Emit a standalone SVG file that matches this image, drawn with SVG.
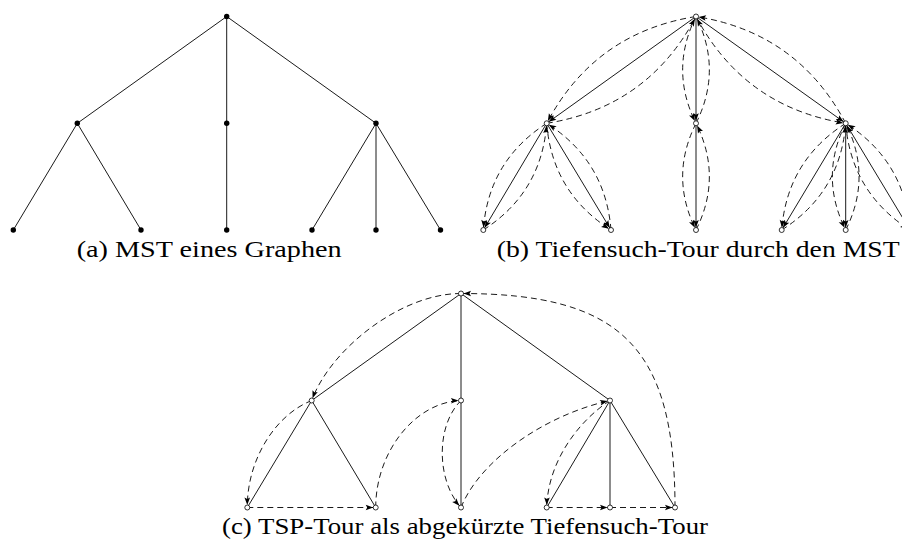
<svg xmlns="http://www.w3.org/2000/svg" width="902" height="550" viewBox="0 0 902 550">
<style>
.e{stroke:#000;stroke-width:0.9;fill:none}
.d{stroke:#000;stroke-width:0.9;fill:none;stroke-dasharray:6 4}
.a{marker-end:url(#ah)}
.f{fill:#000}
.o{fill:#fff;stroke:#000;stroke-width:0.8}
.cap{font-family:"Liberation Serif","Times New Roman",serif;font-size:23px;fill:#000}
</style>
<defs>
<marker id="ah" markerUnits="userSpaceOnUse" markerWidth="12" markerHeight="12" refX="2.5" refY="0" orient="auto" overflow="visible">
<path d="M0,0 L-7.5,-2.8 L-6,0 L-7.5,2.8 Z" fill="#000"/>
</marker>
</defs>
<rect width="902" height="550" fill="#fff"/>
<g id="connectors">
<g id="edges-a">
<line class="e" x1="226.7" y1="16.5" x2="77.3" y2="123.3"/>
<line class="e" x1="226.7" y1="16.5" x2="226.7" y2="123.3"/>
<line class="e" x1="226.7" y1="16.5" x2="376" y2="123.3"/>
<line class="e" x1="77.3" y1="123.3" x2="13.3" y2="230"/>
<line class="e" x1="77.3" y1="123.3" x2="141" y2="230"/>
<line class="e" x1="226.7" y1="123.3" x2="226.7" y2="230"/>
<line class="e" x1="376" y1="123.3" x2="312" y2="230"/>
<line class="e" x1="376" y1="123.3" x2="376" y2="230"/>
<line class="e" x1="376" y1="123.3" x2="440.5" y2="230"/>
</g>
<g id="edges-b">
<line class="e a" x1="696" y1="16.5" x2="546.7" y2="123.3"/>
<line class="e a" x1="696" y1="16.5" x2="696" y2="123.3"/>
<line class="e a" x1="696" y1="16.5" x2="845.7" y2="123.3"/>
<line class="e a" x1="546.7" y1="123.3" x2="483.3" y2="230"/>
<line class="e a" x1="546.7" y1="123.3" x2="611" y2="230"/>
<line class="e a" x1="696" y1="123.3" x2="696" y2="230"/>
<line class="e a" x1="845.7" y1="123.3" x2="781.7" y2="230"/>
<line class="e a" x1="845.7" y1="123.3" x2="845.7" y2="230"/>
<line class="e a" x1="845.7" y1="123.3" x2="910" y2="230"/>
</g>
<g id="tour-b">
<path class="d a" d="M696,16.5 Q594.65,32.6 546.7,123.3"/>
<path class="d a" d="M546.7,123.3 Q488.3,160.8 483.3,230"/>
<path class="d a" d="M483.3,230 Q541.7,192.5 546.7,123.3"/>
<path class="d a" d="M546.7,123.3 Q552.2,192.7 611,230"/>
<path class="d a" d="M611,230 Q605.5,160.6 546.7,123.3"/>
<path class="d a" d="M546.7,123.3 Q648.05,107.2 696,16.5"/>
<path class="d a" d="M696,16.5 Q669.3,69.9 696,123.3"/>
<path class="d a" d="M696,123.3 Q669.3,176.65 696,230"/>
<path class="d a" d="M696,230 Q722.7,176.65 696,123.3"/>
<path class="d a" d="M696,123.3 Q722.7,69.9 696,16.5"/>
<path class="d a" d="M696,16.5 Q744.15,107.3 845.7,123.3"/>
<path class="d a" d="M845.7,123.3 Q787,160.65 781.7,230"/>
<path class="d a" d="M781.7,230 Q840.4,192.65 845.7,123.3"/>
<path class="d a" d="M845.7,123.3 Q819,176.65 845.7,230"/>
<path class="d a" d="M845.7,230 Q872.4,176.65 845.7,123.3"/>
<path class="d a" d="M845.7,123.3 Q851.2,192.7 910,230"/>
<path class="d a" d="M910,230 Q904.5,160.6 845.7,123.3"/>
<path class="d a" d="M845.7,123.3 Q797.55,32.5 696,16.5"/>
</g>
<g id="edges-c">
<line class="e" x1="461" y1="293.5" x2="311.7" y2="400.5"/>
<line class="e" x1="461" y1="293.5" x2="461" y2="400.5"/>
<line class="e" x1="461" y1="293.5" x2="610" y2="400.5"/>
<line class="e" x1="311.7" y1="400.5" x2="247.3" y2="507.5"/>
<line class="e" x1="311.7" y1="400.5" x2="375.7" y2="507.5"/>
<line class="e" x1="461" y1="400.5" x2="461" y2="507.5"/>
<line class="e" x1="610" y1="400.5" x2="546.7" y2="507.5"/>
<line class="e" x1="610" y1="400.5" x2="610" y2="507.5"/>
<line class="e" x1="610" y1="400.5" x2="675" y2="507.5"/>
</g>
<g id="tour-c">
<path class="d a" d="M461,293.5 C400,293.5 330,350 311.7,400.5"/>
<path class="d a" d="M311.7,400.5 C275,415 247,460 247.3,507.5"/>
<path class="d a" d="M247.3,507.5 L375.7,507.5"/>
<path class="d a" d="M375.7,507.5 C375.7,452 415,402 461,400.5"/>
<path class="d a" d="M461,400.5 C436,425 436,480 461,507.5"/>
<path class="d a" d="M461,507.5 C480,460 545,415 610,400.5"/>
<path class="d a" d="M610,400.5 C580,420 548,460 546.7,507.5"/>
<path class="d a" d="M546.7,507.5 L610,507.5"/>
<path class="d a" d="M610,507.5 L675,507.5"/>
<path class="d a" d="M675,507.5 C675,347 621,293.5 461,293.5"/>
</g>
</g>
<g id="nodes-a">
<circle id="a-r" class="f" cx="226.7" cy="16.5" r="2.7"/>
<circle id="a-l" class="f" cx="77.3" cy="123.3" r="2.7"/>
<circle id="a-m" class="f" cx="226.7" cy="123.3" r="2.7"/>
<circle id="a-rr" class="f" cx="376" cy="123.3" r="2.7"/>
<circle id="a-l1" class="f" cx="13.3" cy="230" r="2.7"/>
<circle id="a-l2" class="f" cx="141" cy="230" r="2.7"/>
<circle id="a-m1" class="f" cx="226.7" cy="230" r="2.7"/>
<circle id="a-r1" class="f" cx="312" cy="230" r="2.7"/>
<circle id="a-r2" class="f" cx="376" cy="230" r="2.7"/>
<circle id="a-r3" class="f" cx="440.5" cy="230" r="2.7"/>
</g>
<g id="nodes-b">
<circle id="b-r" class="o" cx="696" cy="16.5" r="2.5"/>
<circle id="b-l" class="o" cx="546.7" cy="123.3" r="2.5"/>
<circle id="b-m" class="o" cx="696" cy="123.3" r="2.5"/>
<circle id="b-rr" class="o" cx="845.7" cy="123.3" r="2.5"/>
<circle id="b-l1" class="o" cx="483.3" cy="230" r="2.5"/>
<circle id="b-l2" class="o" cx="611" cy="230" r="2.5"/>
<circle id="b-m1" class="o" cx="696" cy="230" r="2.5"/>
<circle id="b-r1" class="o" cx="781.7" cy="230" r="2.5"/>
<circle id="b-r2" class="o" cx="845.7" cy="230" r="2.5"/>
<circle id="b-r3" class="o" cx="910" cy="230" r="2.5"/>
</g>
<g id="nodes-c">
<circle id="c-r" class="o" cx="461" cy="293.5" r="2.5"/>
<circle id="c-l" class="o" cx="311.7" cy="400.5" r="2.5"/>
<circle id="c-m" class="o" cx="461" cy="400.5" r="2.5"/>
<circle id="c-rr" class="o" cx="610" cy="400.5" r="2.5"/>
<circle id="c-l1" class="o" cx="247.3" cy="507.5" r="2.5"/>
<circle id="c-l2" class="o" cx="375.7" cy="507.5" r="2.5"/>
<circle id="c-m1" class="o" cx="461" cy="507.5" r="2.5"/>
<circle id="c-r1" class="o" cx="546.7" cy="507.5" r="2.5"/>
<circle id="c-r2" class="o" cx="610" cy="507.5" r="2.5"/>
<circle id="c-r3" class="o" cx="675" cy="507.5" r="2.5"/>
</g>
<g id="captions">
<text class="cap" x="76.7" y="256.5" textLength="265" lengthAdjust="spacingAndGlyphs">(a) MST eines Graphen</text>
<text class="cap" x="496.7" y="256.5" textLength="403" lengthAdjust="spacingAndGlyphs">(b) Tiefensuch-Tour durch den MST</text>
<text class="cap" x="222" y="534" textLength="486" lengthAdjust="spacingAndGlyphs">(c) TSP-Tour als abgekürzte Tiefensuch-Tour</text>
</g>
</svg>
